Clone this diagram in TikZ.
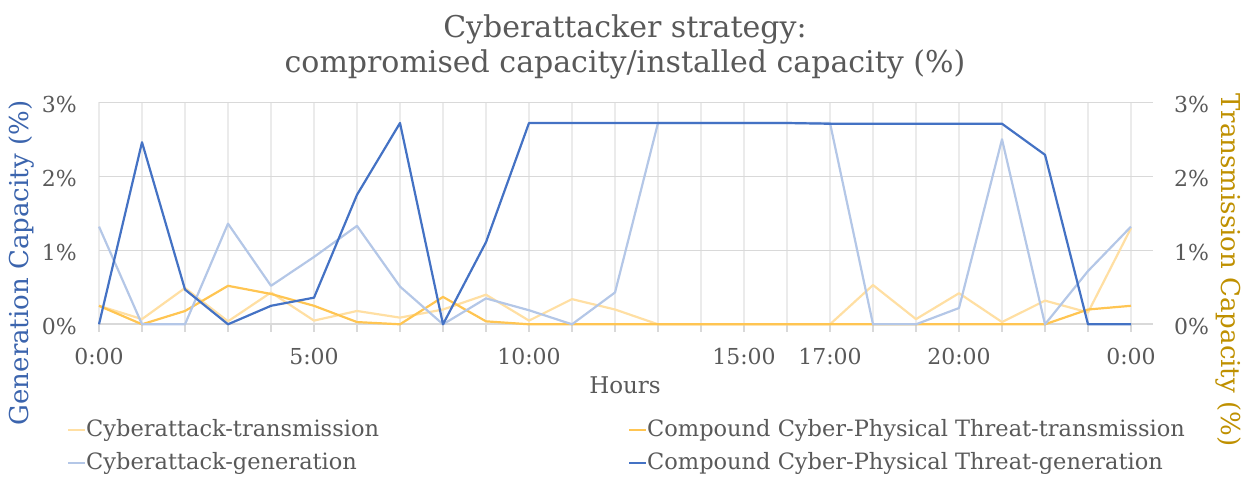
\documentclass[tikz,border=0pt]{standalone}
\usepackage{fontspec}
\setmainfont{DejaVu Serif}
\usetikzlibrary{positioning}
\definecolor{cyTrans}{HTML}{FFDFA3}
\definecolor{cpTrans}{HTML}{FFC552}
\definecolor{cyGen}{HTML}{B4C7E7}
\definecolor{cpGen}{HTML}{4472C4}
\definecolor{labelgray}{HTML}{595959}
\definecolor{gridgray}{HTML}{D9D9D9}
\definecolor{vgridgray}{HTML}{EBEBEB}
\definecolor{genblue}{HTML}{3B64AD}
\definecolor{transgold}{HTML}{BF9000}
\tikzset
{
    series/.style     = {line width=2.2pt, line join=round},
    hgrid/.style      = {draw=gridgray, line width=1.3pt},
    vgrid/.style      = {draw=vgridgray, line width=1.1pt},
    axisline/.style   = {draw=gridgray, line width=1.6pt},
    ticklabel/.style  = {text=labelgray, inner sep=0pt, font=\fontsize{22}{26}\selectfont},
    axistitle/.style  = {inner sep=0pt, font=\fontsize{26}{30}\selectfont},
    legendtext/.style = {text=labelgray, inner sep=0pt, anchor=west, font=\fontsize{22.5}{26}\selectfont},
    legendkey/.style  = {line width=2.2pt}
}

\begin{document}
\begin{tikzpicture}[x=1pt,y=1pt]
\useasboundingbox (0,0) rectangle (1249,479);
% plot area: one hour = 43pt, one percent = 74pt
\begin{scope}[shift={(99,154.7)}, x=43pt, y=74pt]
\foreach \h in {0,...,24} \draw[vgrid] (\h,0) -- (\h,3);
\foreach \p in {1,2,3} \draw[hgrid] (0,\p) -- (24.5,\p);
\draw[axisline] (0,0) -- (24.5,0);
\foreach \h in {0,...,24} \draw[axisline] (\h,0) -- (\h,-0.1);
\coordinate (origin) at (0,0);
\coordinate (topright) at (24,3);
% series
\draw[series,cyTrans] plot coordinates {(0,0.25) (1,0.07) (2,0.49) (3,0.04) (4,0.43) (5,0.05) (6,0.18) (7,0.09) (8,0.2) (9,0.4) (10,0.05) (11,0.34) (12,0.2) (13,0) (14,0) (15,0) (16,0) (17,0) (18,0.53) (19,0.07) (20,0.42) (21,0.03) (22,0.32) (23,0.16) (24,1.3)};
\draw[series,cpTrans] plot coordinates {(0,0.25) (1,0) (2,0.18) (3,0.52) (4,0.41) (5,0.25) (6,0.03) (7,0) (8,0.37) (9,0.04) (10,0) (11,0) (12,0) (13,0) (14,0) (15,0) (16,0) (17,0) (18,0) (19,0) (20,0) (21,0) (22,0) (23,0.2) (24,0.25)};
\draw[series,cyGen] plot coordinates {(0,1.32) (1,0) (2,0) (3,1.36) (4,0.52) (5,0.91) (6,1.33) (7,0.51) (8,0) (9,0.35) (10,0.19) (11,0) (12,0.43) (13,2.72) (14,2.72) (15,2.72) (16,2.72) (17,2.72) (18,0) (19,0) (20,0.22) (21,2.5) (22,0) (23,0.72) (24,1.32)};
\draw[series,cpGen] plot coordinates {(0,0) (1,2.46) (2,0.47) (3,0) (4,0.25) (5,0.36) (6,1.75) (7,2.72) (8,0) (9,1.11) (10,2.72) (11,2.72) (12,2.72) (13,2.72) (14,2.72) (15,2.72) (16,2.72) (17,2.71) (18,2.71) (19,2.71) (20,2.71) (21,2.71) (22,2.29) (23,0) (24,0)};
% tick labels
\foreach \p in {0,1,2,3} {
  \node (ly\p) [ticklabel, anchor=east] at ([xshift=-22pt,yshift=-2pt]0,\p) {\p\%};
  \node (ry\p) [ticklabel, anchor=west] at ([xshift=43pt,yshift=-2pt]24,\p) {\p\%};
}
\foreach \h/\t in {0/0:00, 5/5:00, 10/10:00, 15/15:00, 17/17:00, 20/20:00, 24/0:00}
  \node (lx\h) [ticklabel] at ([yshift=-32pt]\h,0) {\t};
\end{scope}
% titles
\node (title) [text=labelgray, align=center, inner sep=0pt, font=\fontsize{30}{35}\selectfont] at (625,432) {Cyberattacker strategy:\\compromised capacity/installed capacity (\%)};
\node (hours) [text=labelgray, inner sep=0pt, font=\fontsize{23}{27}\selectfont] at (625,94) {Hours};
\node (gentitle) [axistitle, text=genblue, rotate=90] at (22,216) {Generation Capacity (\%)};
\node (transtitle) [axistitle, text=transgold, rotate=-90] at (1228,209) {Transmission Capacity (\%)};
% legend
\node (legCyT) [legendtext] at (86,49) {Cyberattack-transmission};
\node (legCpT) [legendtext] at (647,49) {Compound Cyber-Physical Threat-transmission};
\node (legCyG) [legendtext] at (86,16) {Cyberattack-generation};
\node (legCpG) [legendtext] at (647,16) {Compound Cyber-Physical Threat-generation};
\foreach \n/\c in {legCyT/cyTrans, legCpT/cpTrans, legCyG/cyGen, legCpG/cpGen}
  \draw[legendkey, \c] ([xshift=-18pt]\n.west) -- ([xshift=-1pt]\n.west);
\end{tikzpicture}
\end{document}
